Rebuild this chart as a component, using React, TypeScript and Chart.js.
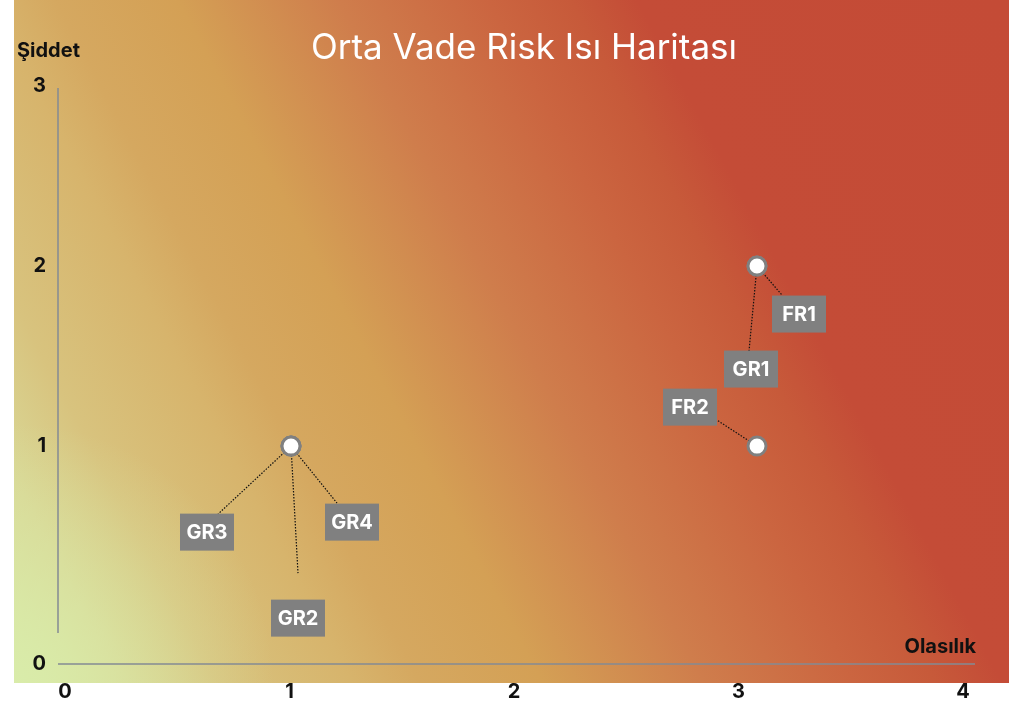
import React, { useEffect, useRef } from 'react';
import { Chart, registerables } from 'chart.js';

Chart.register(...registerables);

const chartTitle = 'Orta Vade Risk Isı Haritası';
const xAxisTitle = 'Olasılık';
const yAxisTitle = 'Şiddet';

const riskNames = ['GR1', 'GR2', 'GR3', 'GR4', 'FR1', 'FR2'];
const olasilik = [3, 1, 1, 1, 3, 3];
const siddet = [2, 1, 1, 1, 2, 1];

const xTickValues = [0, 1, 2, 3, 4];
const xTickLabels = ['0', '1', '2', '3', '4'];
const yTickValues = [0, 1, 2, 3];
const yTickLabels = ['0', '1', '2', '3'];

// label placement relative to its point, in px (layout only)
const labelLayout: Record<string, { bx: number; by: number; cx: number; cy: number }> = {
  GR1: { bx: -6, by: 103, cx: -8, cy: 85 },
  GR2: { bx: 7, by: 172, cx: 7, cy: 127 },
  GR3: { bx: -84, by: 86, cx: -73, cy: 68 },
  GR4: { bx: 61, by: 76, cx: 46, cy: 57 },
  FR1: { bx: 42, by: 48, cx: 25, cy: 29 },
  FR2: { bx: -67, by: -39, cx: -40, cy: -26 },
};

const FONT = 'Inter, "Noto Sans", sans-serif';

const backgroundPlugin = {
  id: 'bgGradient',
  beforeDraw(chart: any) {
    const ctx = chart.ctx;
    ctx.save();
    const g = ctx.createLinearGradient(14, 683, 1067, 120);
    g.addColorStop(0, '#d9e6a3');
    g.addColorStop(0.08, '#d9d795');
    g.addColorStop(0.15, '#d8c37e');
    g.addColorStop(0.25, '#d7b46c');
    g.addColorStop(0.3, '#d5a860');
    g.addColorStop(0.39, '#d4a055');
    g.addColorStop(0.51, '#cf7d4c');
    g.addColorStop(0.62, '#cb6540');
    g.addColorStop(0.68, '#c75a3a');
    g.addColorStop(0.73, '#c44c37');
    g.addColorStop(1, '#c44b36');
    ctx.fillStyle = g;
    ctx.fillRect(14, 0, 995, 683);
    const r = ctx.createRadialGradient(14, 683, 0, 14, 683, 260);
    r.addColorStop(0, 'rgba(217,236,170,0.95)');
    r.addColorStop(0.45, 'rgba(217,236,170,0.45)');
    r.addColorStop(1, 'rgba(217,236,170,0)');
    ctx.fillStyle = r;
    ctx.fillRect(14, 0, 995, 683);
    ctx.restore();
  },
};

const decorPlugin = {
  id: 'decor',
  beforeDatasetsDraw(chart: any) {
    const ctx = chart.ctx;
    const { left, right, bottom } = chart.chartArea;
    const ys = chart.scales.y;
    const xs = chart.scales.x;
    ctx.save();
    // axis lines
    ctx.strokeStyle = '#848b94';
    ctx.lineWidth = 1.5;
    ctx.beginPath();
    ctx.moveTo(left, ys.getPixelForValue(3) + 2);
    ctx.lineTo(left, bottom - 31);
    ctx.moveTo(left, bottom);
    ctx.lineTo(right - 15, bottom);
    ctx.stroke();
    // connectors
    ctx.strokeStyle = '#111';
    ctx.lineWidth = 1.2;
    ctx.setLineDash([1.5, 1.5]);
    riskNames.forEach((name, i) => {
      const l = labelLayout[name];
      const px = xs.getPixelForValue(olasilik[i]);
      const py = ys.getPixelForValue(siddet[i]);
      ctx.beginPath();
      ctx.moveTo(px, py);
      ctx.lineTo(px + l.cx, py + l.cy);
      ctx.stroke();
    });
    ctx.restore();
  },
  afterDatasetsDraw(chart: any) {
    const ctx = chart.ctx;
    const { left, right } = chart.chartArea;
    const ys = chart.scales.y;
    const xs = chart.scales.x;
    ctx.save();
    // label boxes
    riskNames.forEach((name, i) => {
      const l = labelLayout[name];
      const px = xs.getPixelForValue(olasilik[i]) + l.bx;
      const py = ys.getPixelForValue(siddet[i]) + l.by;
      ctx.fillStyle = '#808080';
      ctx.fillRect(px - 27, py - 18.5, 54, 37);
      ctx.fillStyle = '#ffffff';
      ctx.font = `bold 20px ${FONT}`;
      ctx.textAlign = 'center';
      ctx.textBaseline = 'middle';
      ctx.fillText(name, px, py + 1);
    });
    // title
    ctx.fillStyle = '#ffffff';
    ctx.font = `35px ${FONT}`;
    ctx.textAlign = 'center';
    ctx.textBaseline = 'alphabetic';
    ctx.fillText(chartTitle, (left + right) / 2, 59);
    // axis titles
    ctx.fillStyle = '#111';
    ctx.font = `bold 20px ${FONT}`;
    ctx.textAlign = 'left';
    ctx.fillText(yAxisTitle, 17, 57);
    ctx.textAlign = 'right';
    ctx.fillText(xAxisTitle, 976, 653);
    ctx.restore();
  },
};

export default function App() {
  const ref = useRef<HTMLCanvasElement | null>(null);
  useEffect(() => {
    if (!ref.current) return;
    const chart = new Chart(ref.current, {
      type: 'scatter',
      data: {
        datasets: [
          {
            data: riskNames.map((_, i) => ({ x: olasilik[i], y: siddet[i] })),
            pointRadius: 9,
            pointHoverRadius: 9,
            pointBackgroundColor: '#ffffff',
            pointBorderColor: '#808080',
            pointBorderWidth: 3,
            xAxisID: 'x',
            yAxisID: 'y',
          },
        ],
      },
      options: {
        responsive: false,
        animation: false,
        events: [],
        layout: { padding: { left: 18, right: 21, top: 86, bottom: 0 } },
        plugins: { legend: { display: false }, tooltip: { enabled: false }, title: { display: false } },
        scales: {
          x: { type: 'linear', min: 0, max: 4, display: false },
          x2: {
            type: 'linear',
            position: 'bottom',
            min: -0.03118,
            max: 4.1202,
            grid: { display: false, drawTicks: false },
            border: { display: false },
            afterBuildTicks: (s: any) => {
              s.ticks = xTickValues.map((v) => ({ value: v }));
            },
            afterFit: (s: any) => {
              s.height = 39;
            },
            ticks: {
              padding: 16,
              autoSkip: false,
              maxRotation: 0,
              color: '#111',
              font: { family: FONT, size: 20, weight: 'bold' },
              callback: (_v: any, i: number) => xTickLabels[i],
            },
          },
          y: {
            type: 'linear',
            min: -0.21,
            max: 3,
            grid: { display: false, drawTicks: false },
            border: { display: false },
            afterBuildTicks: (s: any) => {
              s.ticks = yTickValues.map((v) => ({ value: v === 0 ? s.min : v }));
            },
            afterFit: (s: any) => {
              s.width = 40;
            },
            ticks: {
              padding: 12,
              autoSkip: false,
              color: '#111',
              font: { family: FONT, size: 20, weight: 'bold' },
              callback: (_v: any, i: number) => yTickLabels[i],
            },
          },
        },
      },
      plugins: [backgroundPlugin, decorPlugin],
    } as any);
    return () => chart.destroy();
  }, []);
  return (
    <div style={{ position: 'absolute', left: 0, top: 0, width: 1011, height: 703 }}>
      <canvas ref={ref} width={1011} height={703} style={{ display: 'block' }} />
    </div>
  );
}
